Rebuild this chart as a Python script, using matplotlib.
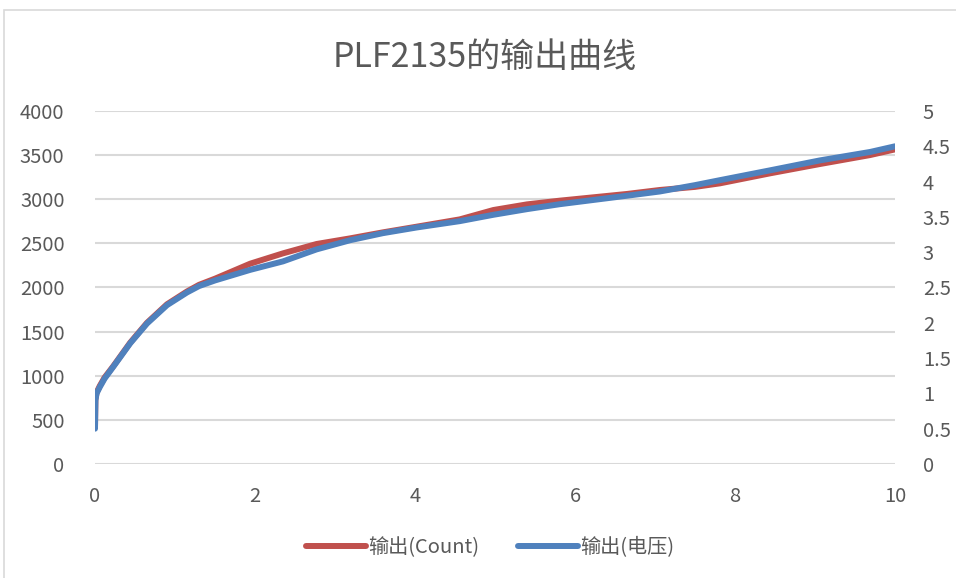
import matplotlib
matplotlib.use("Agg")
import matplotlib.pyplot as plt
from matplotlib.patches import Rectangle

plt.rcParams['font.family'] = ['Noto Sans CJK SC', 'DejaVu Sans']

# Data
x_vals = [0, 0.005, 0.02, 0.06, 0.12, 0.23, 0.44, 0.65, 0.9, 1.15, 1.3, 1.5, 1.94,
          2.35, 2.77, 3.19, 3.6, 4.02, 4.56, 4.98, 5.4, 5.81, 6.23, 6.65, 7.06,
          7.5, 7.81, 8.44, 9.06, 9.69, 10]
count_vals = [420, 730, 810, 885, 980, 1110, 1375, 1600, 1810, 1955, 2030, 2100,
              2270, 2387, 2493, 2557, 2625, 2689, 2772, 2878, 2942, 2984, 3022,
              3060, 3105, 3140, 3180, 3294, 3399, 3501, 3565]
volt_vals = [0.5, 0.9, 1.0, 1.09, 1.21, 1.38, 1.71, 1.99, 2.25, 2.43, 2.52, 2.60,
             2.75, 2.87, 3.04, 3.17, 3.27, 3.35, 3.44, 3.53, 3.61, 3.68, 3.74,
             3.80, 3.86, 3.95, 4.02, 4.16, 4.30, 4.42, 4.50]
left_ticks = [0, 500, 1000, 1500, 2000, 2500, 3000, 3500, 4000]
right_ticks = [0, 0.5, 1, 1.5, 2, 2.5, 3, 3.5, 4, 4.5, 5]
right_labels = ['0', '0.5', '1', '1.5', '2', '2.5', '3', '3.5', '4', '4.5', '5']
x_ticks = [0, 2, 4, 6, 8, 10]
title = 'PLF2135的输出曲线'
label_count = '输出(Count)'
label_volt = '输出(电压)'

RED = '#C0504D'
BLUE = '#4F81BD'
TXT = '#595959'
GRID = '#D9D9D9'

fig = plt.figure(figsize=(9.56, 5.78), dpi=100)
fig.patch.set_facecolor('white')
fig.patches.append(Rectangle((4/956, -0.1), 1.2, (578-10)/578 + 0.1,
                             transform=fig.transFigure, fill=False,
                             edgecolor=GRID, linewidth=1.2))

ax = fig.add_axes([95/956, (578-464)/578, 800/956, 353/578])
ax2 = ax.twinx()

l1, = ax.plot(x_vals, count_vals, color=RED, linewidth=4.3, solid_capstyle='round',
              solid_joinstyle='round', label=label_count)
l2, = ax2.plot(x_vals, volt_vals, color=BLUE, linewidth=4.3, solid_capstyle='round',
               solid_joinstyle='round', label=label_volt)

ax.set_xlim(0, 10)
ax.set_ylim(0, 4000)
ax2.set_ylim(0, 5)
ax.set_xticks(x_ticks)
ax.set_yticks(left_ticks)
ax2.set_yticks(right_ticks)
ax2.set_yticklabels(right_labels)

ax.grid(axis='y', color=GRID, linewidth=1.5)
ax.set_axisbelow(True)
for a in (ax, ax2):
    for s in a.spines.values():
        s.set_visible(False)
    a.tick_params(length=0, labelsize=14.5, labelcolor=TXT)
ax.tick_params(axis='y', pad=22)
ax.tick_params(axis='x', pad=16)
ax2.tick_params(axis='y', pad=20)

fig.text(485/956, 1 - 57/578, title, ha='center', va='center', fontsize=24.5, color=TXT)

leg = fig.legend(handles=[l1, l2], loc='center', bbox_to_anchor=(490/956, 1 - 548/578),
                 ncol=2, frameon=False, fontsize=14.5, handlelength=3.0,
                 columnspacing=1.9, handletextpad=0.1)
for t in leg.get_texts():
    t.set_color(TXT)

fig.savefig('out.png', dpi=100)
